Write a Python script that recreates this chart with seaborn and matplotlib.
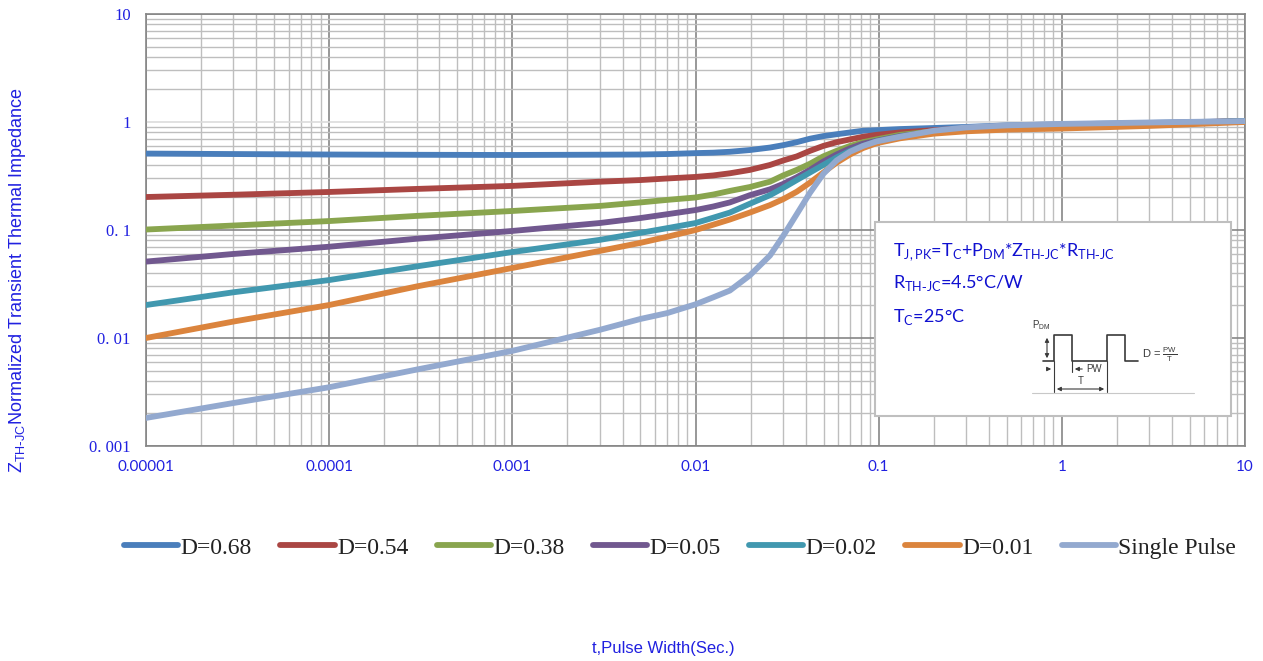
import numpy as np
import pandas as pd
import matplotlib
matplotlib.use("Agg")
import matplotlib.pyplot as plt
import matplotlib.ticker as mticker
from matplotlib.patches import Rectangle
import seaborn as sns

# ── Data ──────────────────────────────────────────────────────
pulse_width = [1e-5, 3e-5, 1e-4, 3e-4, 1e-3, 3e-3, 0.005, 0.007, 0.01, 0.0125, 0.0154, 0.0198,
               0.0255, 0.0301, 0.0357, 0.0421, 0.0498, 0.0589, 0.0697, 0.0822, 0.0973,
               0.1306, 0.2, 0.3, 0.5, 1, 3, 10]

z_d068 = [0.51, 0.505, 0.50, 0.497, 0.495, 0.498, 0.50, 0.505, 0.515, 0.52, 0.53, 0.55,
          0.58, 0.61, 0.65, 0.70, 0.74, 0.77, 0.80, 0.83, 0.84,
          0.86, 0.88, 0.90, 0.93, 0.95, 0.98, 1.02]
z_d054 = [0.202, 0.212, 0.225, 0.24, 0.256, 0.28, 0.29, 0.30, 0.31, 0.32, 0.335, 0.36,
          0.40, 0.44, 0.48, 0.54, 0.60, 0.65, 0.69, 0.73, 0.76,
          0.80, 0.84, 0.87, 0.90, 0.93, 0.97, 1.02]
z_d038 = [0.101, 0.11, 0.121, 0.135, 0.15, 0.167, 0.18, 0.19, 0.20, 0.213, 0.23, 0.25,
          0.28, 0.32, 0.36, 0.41, 0.48, 0.54, 0.60, 0.65, 0.69,
          0.76, 0.82, 0.86, 0.89, 0.92, 0.96, 1.02]
z_d005 = [0.051, 0.06, 0.070, 0.083, 0.098, 0.116, 0.129, 0.14, 0.153, 0.165, 0.18, 0.21,
          0.238, 0.267, 0.308, 0.36, 0.43, 0.50, 0.57, 0.63, 0.67,
          0.74, 0.81, 0.85, 0.88, 0.91, 0.96, 1.02]
z_d002 = [0.0202, 0.0265, 0.0344, 0.046, 0.0625, 0.081, 0.094, 0.104, 0.116, 0.13, 0.145, 0.175,
          0.21, 0.245, 0.29, 0.34, 0.40, 0.47, 0.54, 0.60, 0.66,
          0.73, 0.80, 0.84, 0.87, 0.90, 0.95, 1.02]
z_d001 = [0.0100, 0.0142, 0.0202, 0.030, 0.0445, 0.064, 0.076, 0.0865, 0.100, 0.112, 0.125, 0.145,
          0.17, 0.193, 0.226, 0.274, 0.34, 0.42, 0.50, 0.574, 0.636,
          0.706, 0.78, 0.82, 0.85, 0.87, 0.92, 1.0]
z_single = [0.00182, 0.0025, 0.0035, 0.0051, 0.0076, 0.0119, 0.015, 0.017, 0.0205, 0.0238, 0.0275, 0.038,
            0.058, 0.088, 0.14, 0.22, 0.33, 0.44, 0.53, 0.60, 0.66,
            0.73, 0.83, 0.89, 0.93, 0.96, 0.99, 1.02]

series_names = ["D=0.68", "D=0.54", "D=0.38", "D=0.05", "D=0.02", "D=0.01", "Single Pulse"]
series_values = [z_d068, z_d054, z_d038, z_d005, z_d002, z_d001, z_single]
series_colors = ["#4A7EBB", "#AA4643", "#89A54E", "#71588F", "#4198AF", "#DB843D", "#93A9CF"]

x_ticks = [1e-5, 1e-4, 1e-3, 1e-2, 1e-1, 1, 10]
x_ticklabels = ["0.00001", "0.0001", "0.001", "0.01", "0.1", "1", "10"]
y_ticks = [1e-3, 1e-2, 1e-1, 1, 10]
y_ticklabels = ["0. 001", "0. 01", "0. 1", "1", "10"]

df = pd.concat([pd.DataFrame({"t": pulse_width, "z": v, "series": n})
                for n, v in zip(series_names, series_values)], ignore_index=True)

# ── Style ─────────────────────────────────────────────────────
sns.set_style("white")
plt.rcParams["font.family"] = ["Liberation Sans", "DejaVu Sans"]
BLUE = "#2020E0"
BOX_BLUE = "#1010D0"
LW = 4.2

fig = plt.figure(figsize=(12.63, 6.61), dpi=100)
ax = fig.add_axes([146 / 1263, 1 - 446 / 661, 1099 / 1263, 432 / 661])

sns.lineplot(data=df, x="t", y="z", hue="series", hue_order=series_names,
             palette=dict(zip(series_names, series_colors)), linewidth=LW,
             solid_capstyle="round", solid_joinstyle="round", legend=False, ax=ax, zorder=3)

ax.set_xscale("log")
ax.set_yscale("log")
ax.set_xlim(1e-5, 10)
ax.set_ylim(1e-3, 10)
ax.xaxis.set_major_locator(mticker.FixedLocator(x_ticks))
ax.xaxis.set_major_formatter(mticker.FixedFormatter(x_ticklabels))
ax.yaxis.set_major_locator(mticker.FixedLocator(y_ticks))
ax.yaxis.set_major_formatter(mticker.FixedFormatter(y_ticklabels))
for axis in (ax.xaxis, ax.yaxis):
    axis.set_minor_locator(mticker.LogLocator(base=10, subs=np.arange(2, 10), numticks=50))
    axis.set_minor_formatter(mticker.NullFormatter())

ax.grid(which="major", color="#868686", lw=1.2)
ax.grid(which="minor", color="#BEBEBE", lw=1.0)
ax.set_axisbelow(True)
# the gridline at 1 is drawn much lighter in the reference
ax.get_ygridlines()[3].set_color("#DCDCDC")
for s in ax.spines.values():
    s.set_color("#868686")
    s.set_linewidth(1.2)
ax.tick_params(which="both", length=0)
ax.tick_params(axis="y", pad=11, labelsize=12, labelcolor=BLUE)
ax.tick_params(axis="x", pad=10, labelsize=11, labelcolor=BLUE)
for lab in ax.get_yticklabels():
    lab.set_family(["Liberation Serif", "DejaVu Serif"])
for lab in ax.get_xticklabels():
    lab.set_family(["Lato", "DejaVu Sans"])
ax.set_xlabel("")
ax.set_ylabel("")

# Legend below the plot
handles = ax.get_lines()[:len(series_names)]
leg = ax.legend(handles, series_names, loc="center", bbox_to_anchor=(0.486, -0.236),
                ncol=7, frameon=False, handlelength=2.3, handletextpad=0.1,
                columnspacing=1.2,
                prop={"family": ["Liberation Serif", "DejaVu Serif"], "size": 17})
for h in leg.get_lines():
    h.set_solid_capstyle("round")
    h.set_linewidth(LW)
for t in leg.get_texts():
    t.set_color("#222222")

# Axis titles
fig.text(18 / 1263, 1 - 280 / 661,
         r"Z$_{\mathregular{TH\text{-}JC}}$Normalized Transient Thermal Impedance",
         rotation=90, ha="center", va="center", color=BLUE, fontsize=13)
fig.text(663 / 1263, 1 - 648 / 661, "t,Pulse Width(Sec.)",
         ha="center", va="center", color=BLUE, fontsize=12)

# Info box
ax.add_patch(Rectangle((0.663, 0.069), 0.324, 0.45, transform=ax.transAxes,
                       facecolor="white", edgecolor="#BFBFBF", lw=1.5, zorder=5))
box_font = ["Lato", "DejaVu Sans"]
ax.text(0.680, (446 - 252) / 432,
        r"T$_{\mathregular{J,PK}}$=T$_{\mathregular{C}}$+P$_{\mathregular{DM}}$*"
        r"Z$_{\mathregular{TH\text{-}JC}}$*R$_{\mathregular{TH\text{-}JC}}$",
        transform=ax.transAxes, va="center", ha="left", fontsize=13,
        color=BOX_BLUE, family=box_font, zorder=6)
ax.text(0.680, (446 - 283) / 432, r"R$_{\mathregular{TH\text{-}JC}}$=4.5°C/W",
        transform=ax.transAxes, va="center", ha="left", fontsize=13,
        color=BOX_BLUE, family=box_font, zorder=6)
ax.text(0.680, (446 - 317) / 432, r"T$_{\mathregular{C}}$=25°C",
        transform=ax.transAxes, va="center", ha="left", fontsize=13,
        color=BOX_BLUE, family=box_font, zorder=6)

# Pulse schematic (inset, drawn in reference pixel units)
ins = fig.add_axes([1025 / 1263, 1 - 400 / 661, 175 / 1263, 85 / 661])
ins.set_xlim(1025, 1200)
ins.set_ylim(400, 315)
ins.axis("off")
ink = "#3A3A3A"
wave_x = [1043, 1054, 1054, 1072, 1072, 1107, 1107, 1125, 1125, 1138]
wave_y = [361, 361, 335, 335, 361, 361, 335, 335, 361, 361]
ins.plot(wave_x, wave_y, color=ink, lw=1.2)
ins.plot([1054, 1054], [361, 392], color=ink, lw=0.8)
ins.plot([1072, 1072], [361, 372], color=ink, lw=0.8)
ins.plot([1107, 1107], [361, 392], color=ink, lw=0.8)
ins.plot([1032, 1194], [393, 393], color="#C8C8C8", lw=0.8)
arr = dict(arrowstyle="-|>", color=ink, lw=0.8, mutation_scale=6)
ins.annotate("", xy=(1047, 335), xytext=(1047, 361), arrowprops=dict(arr, arrowstyle="<|-|>"))
ins.annotate("", xy=(1054, 369), xytext=(1044, 369), arrowprops=arr)
ins.annotate("", xy=(1072, 369), xytext=(1085, 369), arrowprops=arr)
ins.annotate("", xy=(1107, 389), xytext=(1054, 389), arrowprops=dict(arr, arrowstyle="<|-|>"))
ins.text(1032, 325, r"P$_{\mathregular{DM}}$", fontsize=7, color=ink, va="center")
ins.text(1086, 369, "PW", fontsize=7, color=ink, va="center")
ins.text(1078, 381, "T", fontsize=7, color=ink, va="center")
ins.text(1142, 355, r"D = $\mathregular{\frac{PW}{T}}$", fontsize=8, color=ink, va="center")

fig.savefig("out.png", dpi=100)
